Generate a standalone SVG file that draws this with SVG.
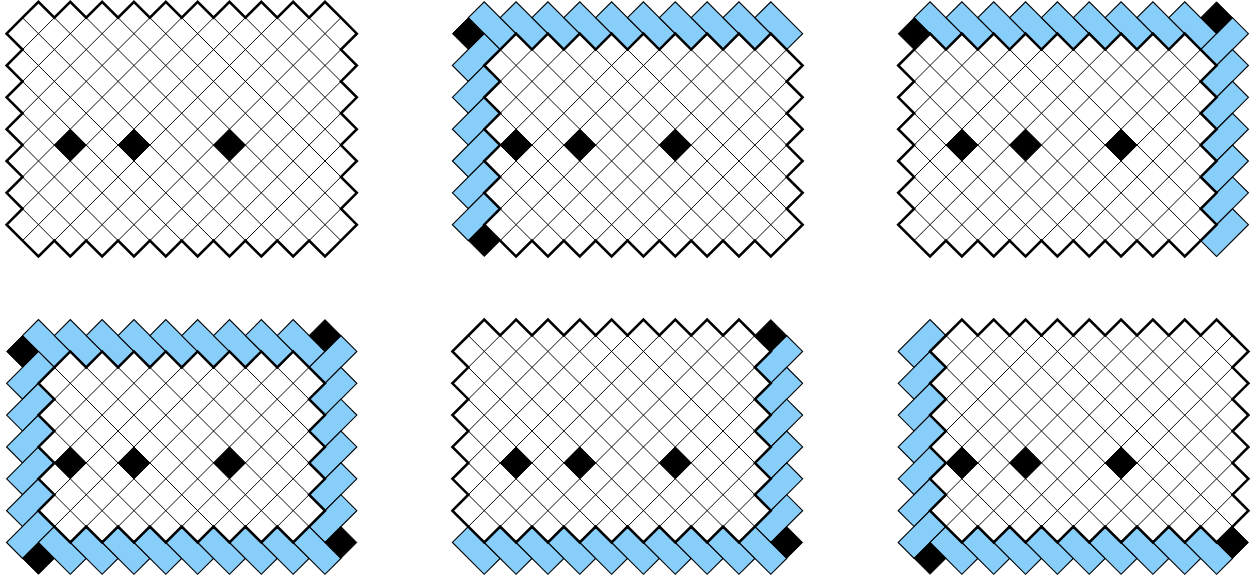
<svg xmlns="http://www.w3.org/2000/svg" xmlns:xlink="http://www.w3.org/1999/xlink" width="1258" height="579" viewBox="0 0 1258 579">
<style>
.gl{fill:none;stroke:#000;stroke-width:.06}
.edge{fill:none;stroke:#000;stroke-width:.16;stroke-linejoin:miter}
.dom{fill:#87cefa;stroke:#000;stroke-width:.07;stroke-linejoin:miter}
.blk{fill:#000;stroke:#000;stroke-width:.06}
</style>
<defs>
<path id="dd" d="M-1 0L0-1L2 1L1 2z"/>
<path id="du" d="M-1 0L1-2L2-1L0 1z"/>
<path id="cell" d="M-1 0L0-1L1 0L0 1z"/>
<path id="grid" d="M-16 0l16 16M-14 0l16 16M-12 0l16 16M-10 0l16 16M-8 0l16 16M-6 0l16 16M-4 0l16 16M-2 0l16 16M0 0l16 16M2 0l16 16M4 0l16 16M6 0l16 16M8 0l16 16M10 0l16 16M12 0l16 16M14 0l16 16M16 0l16 16M18 0l16 16M20 0l16 16M22 0l16 16M0 0l-16 16M2 0l-16 16M4 0l-16 16M6 0l-16 16M8 0l-16 16M10 0l-16 16M12 0l-16 16M14 0l-16 16M16 0l-16 16M18 0l-16 16M20 0l-16 16M22 0l-16 16M24 0l-16 16M26 0l-16 16M28 0l-16 16M30 0l-16 16M32 0l-16 16M34 0l-16 16M36 0l-16 16M38 0l-16 16"/>
<path id="r1" d="M0 2l1-1l1-1l1 1l1-1l1 1l1-1l1 1l1-1l1 1l1-1l1 1l1-1l1 1l1-1l1 1l1-1l1 1l1-1l1 1l1-1l1 1l1 1l-1 1l1 1l-1 1l1 1l-1 1l1 1l-1 1l1 1l-1 1l1 1l-1 1l1 1l-1 1l-1 1l-1-1l-1 1l-1-1l-1 1l-1-1l-1 1l-1-1l-1 1l-1-1l-1 1l-1-1l-1 1l-1-1l-1 1l-1-1l-1 1l-1-1l-1 1l-1-1l-1-1l1-1l-1-1l1-1l-1-1l1-1l-1-1l1-1l-1-1l1-1l-1-1l1-1l-1-1z"/>
<path id="r2" d="M2 4l1-1l1-1l1 1l1-1l1 1l1-1l1 1l1-1l1 1l1-1l1 1l1-1l1 1l1-1l1 1l1-1l1 1l1-1l1 1l1 1l-1 1l1 1l-1 1l1 1l-1 1l1 1l-1 1l1 1l-1 1l1 1l-1 1l-1 1l-1-1l-1 1l-1-1l-1 1l-1-1l-1 1l-1-1l-1 1l-1-1l-1 1l-1-1l-1 1l-1-1l-1 1l-1-1l-1 1l-1-1l-1-1l1-1l-1-1l1-1l-1-1l1-1l-1-1l1-1l-1-1l1-1l-1-1z"/>
<path id="r3" d="M0 4l1-1l1-1l1 1l1-1l1 1l1-1l1 1l1-1l1 1l1-1l1 1l1-1l1 1l1-1l1 1l1-1l1 1l1-1l1 1l1 1l-1 1l1 1l-1 1l1 1l-1 1l1 1l-1 1l1 1l-1 1l1 1l-1 1l-1 1l-1-1l-1 1l-1-1l-1 1l-1-1l-1 1l-1-1l-1 1l-1-1l-1 1l-1-1l-1 1l-1-1l-1 1l-1-1l-1 1l-1-1l-1-1l1-1l-1-1l1-1l-1-1l1-1l-1-1l1-1l-1-1l1-1l-1-1z"/>
<path id="r4" d="M2 4l1-1l1-1l1 1l1-1l1 1l1-1l1 1l1-1l1 1l1-1l1 1l1-1l1 1l1-1l1 1l1-1l1 1l1 1l-1 1l1 1l-1 1l1 1l-1 1l1 1l-1 1l1 1l-1 1l-1 1l-1-1l-1 1l-1-1l-1 1l-1-1l-1 1l-1-1l-1 1l-1-1l-1 1l-1-1l-1 1l-1-1l-1 1l-1-1l-1-1l1-1l-1-1l1-1l-1-1l1-1l-1-1l1-1l-1-1z"/>
<path id="r5" d="M0 2l1-1l1-1l1 1l1-1l1 1l1-1l1 1l1-1l1 1l1-1l1 1l1-1l1 1l1-1l1 1l1-1l1 1l1-1l1 1l1 1l-1 1l1 1l-1 1l1 1l-1 1l1 1l-1 1l1 1l-1 1l1 1l-1 1l-1 1l-1-1l-1 1l-1-1l-1 1l-1-1l-1 1l-1-1l-1 1l-1-1l-1 1l-1-1l-1 1l-1-1l-1 1l-1-1l-1 1l-1-1l-1-1l1-1l-1-1l1-1l-1-1l1-1l-1-1l1-1l-1-1l1-1l-1-1z"/>
<path id="r6" d="M2 2l1-1l1-1l1 1l1-1l1 1l1-1l1 1l1-1l1 1l1-1l1 1l1-1l1 1l1-1l1 1l1-1l1 1l1-1l1 1l1 1l-1 1l1 1l-1 1l1 1l-1 1l1 1l-1 1l1 1l-1 1l1 1l-1 1l-1 1l-1-1l-1 1l-1-1l-1 1l-1-1l-1 1l-1-1l-1 1l-1-1l-1 1l-1-1l-1 1l-1-1l-1 1l-1-1l-1 1l-1-1l-1-1l1-1l-1-1l1-1l-1-1l1-1l-1-1l1-1l-1-1l1-1l-1-1z"/>
<clipPath id="c1"><use href="#r1"/></clipPath>
<clipPath id="c2"><use href="#r2"/></clipPath>
<clipPath id="c3"><use href="#r3"/></clipPath>
<clipPath id="c4"><use href="#r4"/></clipPath>
<clipPath id="c5"><use href="#r5"/></clipPath>
<clipPath id="c6"><use href="#r6"/></clipPath>
</defs>
<rect width="1258" height="579" fill="#fff"/>

<g id="panel1" transform="translate(6.6 1.8) scale(15.92)">
<use href="#grid" class="gl" clip-path="url(#c1)"/>
<g class="blk"><use href="#cell" x="4" y="9"/><use href="#cell" x="8" y="9"/><use href="#cell" x="14" y="9"/></g>
<use href="#r1" class="edge"/>
</g>

<g id="panel2" transform="translate(452.4 1.8) scale(15.92)">
<g class="dom">
<use href="#dd" x="2" y="1"/><use href="#dd" x="4" y="1"/><use href="#dd" x="6" y="1"/><use href="#dd" x="8" y="1"/><use href="#dd" x="10" y="1"/><use href="#dd" x="12" y="1"/><use href="#dd" x="14" y="1"/><use href="#dd" x="16" y="1"/><use href="#dd" x="18" y="1"/><use href="#dd" x="20" y="1"/>
<use href="#du" x="1" y="4"/><use href="#du" x="1" y="6"/><use href="#du" x="1" y="8"/><use href="#du" x="1" y="10"/><use href="#du" x="1" y="12"/><use href="#du" x="1" y="14"/>
</g>
<use href="#grid" class="gl" clip-path="url(#c2)"/>
<g class="blk"><use href="#cell" x="1" y="2"/><use href="#cell" x="2" y="15"/><use href="#cell" x="4" y="9"/><use href="#cell" x="8" y="9"/><use href="#cell" x="14" y="9"/></g>
<use href="#r2" class="edge"/>
</g>

<g id="panel3" transform="translate(898.2 1.8) scale(15.92)">
<g class="dom">
<use href="#dd" x="2" y="1"/><use href="#dd" x="4" y="1"/><use href="#dd" x="6" y="1"/><use href="#dd" x="8" y="1"/><use href="#dd" x="10" y="1"/><use href="#dd" x="12" y="1"/><use href="#dd" x="14" y="1"/><use href="#dd" x="16" y="1"/><use href="#dd" x="18" y="1"/>
<use href="#du" x="20" y="3"/><use href="#du" x="20" y="5"/><use href="#du" x="20" y="7"/><use href="#du" x="20" y="9"/><use href="#du" x="20" y="11"/><use href="#du" x="20" y="13"/><use href="#du" x="20" y="15"/>
</g>
<use href="#grid" class="gl" clip-path="url(#c3)"/>
<g class="blk"><use href="#cell" x="1" y="2"/><use href="#cell" x="20" y="1"/><use href="#cell" x="4" y="9"/><use href="#cell" x="8" y="9"/><use href="#cell" x="14" y="9"/></g>
<use href="#r3" class="edge"/>
</g>

<g id="panel4" transform="translate(6.6 319.6) scale(15.92)">
<g class="dom">
<use href="#dd" x="2" y="1"/><use href="#dd" x="4" y="1"/><use href="#dd" x="6" y="1"/><use href="#dd" x="8" y="1"/><use href="#dd" x="10" y="1"/><use href="#dd" x="12" y="1"/><use href="#dd" x="14" y="1"/><use href="#dd" x="16" y="1"/><use href="#dd" x="18" y="1"/>
<use href="#du" x="1" y="4"/><use href="#du" x="1" y="6"/><use href="#du" x="1" y="8"/><use href="#du" x="1" y="10"/><use href="#du" x="1" y="12"/><use href="#du" x="1" y="14"/>
<use href="#du" x="20" y="3"/><use href="#du" x="20" y="5"/><use href="#du" x="20" y="7"/><use href="#du" x="20" y="9"/><use href="#du" x="20" y="11"/><use href="#du" x="20" y="13"/>
<use href="#dd" x="3" y="14"/><use href="#dd" x="5" y="14"/><use href="#dd" x="7" y="14"/><use href="#dd" x="9" y="14"/><use href="#dd" x="11" y="14"/><use href="#dd" x="13" y="14"/><use href="#dd" x="15" y="14"/><use href="#dd" x="17" y="14"/><use href="#dd" x="19" y="14"/>
</g>
<use href="#grid" class="gl" clip-path="url(#c4)"/>
<g class="blk"><use href="#cell" x="1" y="2"/><use href="#cell" x="20" y="1"/><use href="#cell" x="2" y="15"/><use href="#cell" x="21" y="14"/><use href="#cell" x="4" y="9"/><use href="#cell" x="8" y="9"/><use href="#cell" x="14" y="9"/></g>
<use href="#r4" class="edge"/>
</g>

<g id="panel5" transform="translate(452.4 319.6) scale(15.92)">
<g class="dom">
<use href="#du" x="20" y="3"/><use href="#du" x="20" y="5"/><use href="#du" x="20" y="7"/><use href="#du" x="20" y="9"/><use href="#du" x="20" y="11"/><use href="#du" x="20" y="13"/>
<use href="#dd" x="1" y="14"/><use href="#dd" x="3" y="14"/><use href="#dd" x="5" y="14"/><use href="#dd" x="7" y="14"/><use href="#dd" x="9" y="14"/><use href="#dd" x="11" y="14"/><use href="#dd" x="13" y="14"/><use href="#dd" x="15" y="14"/><use href="#dd" x="17" y="14"/><use href="#dd" x="19" y="14"/>
</g>
<use href="#grid" class="gl" clip-path="url(#c5)"/>
<g class="blk"><use href="#cell" x="20" y="1"/><use href="#cell" x="21" y="14"/><use href="#cell" x="4" y="9"/><use href="#cell" x="8" y="9"/><use href="#cell" x="14" y="9"/></g>
<use href="#r5" class="edge"/>
</g>

<g id="panel6" transform="translate(898.2 319.6) scale(15.92)">
<g class="dom">
<use href="#du" x="1" y="2"/><use href="#du" x="1" y="4"/><use href="#du" x="1" y="6"/><use href="#du" x="1" y="8"/><use href="#du" x="1" y="10"/><use href="#du" x="1" y="12"/><use href="#du" x="1" y="14"/>
<use href="#dd" x="3" y="14"/><use href="#dd" x="5" y="14"/><use href="#dd" x="7" y="14"/><use href="#dd" x="9" y="14"/><use href="#dd" x="11" y="14"/><use href="#dd" x="13" y="14"/><use href="#dd" x="15" y="14"/><use href="#dd" x="17" y="14"/><use href="#dd" x="19" y="14"/>
</g>
<use href="#grid" class="gl" clip-path="url(#c6)"/>
<g class="blk"><use href="#cell" x="2" y="15"/><use href="#cell" x="21" y="14"/><use href="#cell" x="4" y="9"/><use href="#cell" x="8" y="9"/><use href="#cell" x="14" y="9"/></g>
<use href="#r6" class="edge"/>
</g>
</svg>
